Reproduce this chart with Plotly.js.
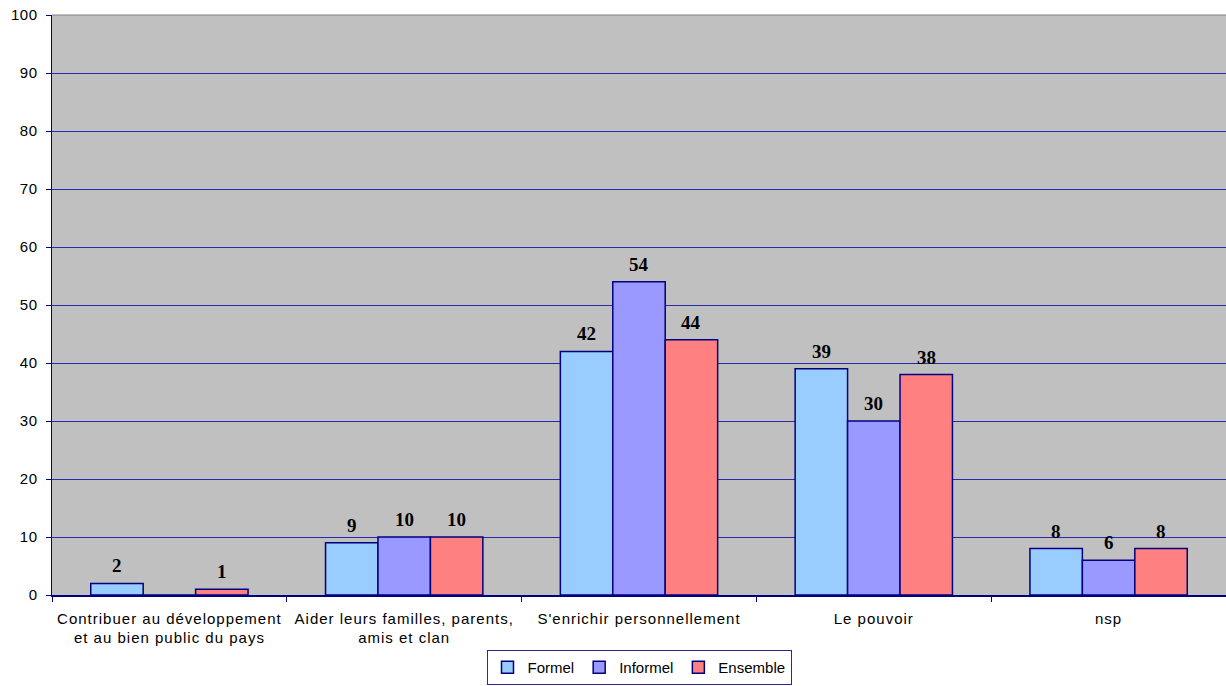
<!DOCTYPE html>
<html>
<head>
<meta charset="utf-8">
<script src="https://cdn.plot.ly/plotly-3.0.1.min.js"></script>
<style>
  html, body { margin: 0; padding: 0; background: #ffffff; }
  #chart { width: 1226px; height: 686px; }
  /* slightly open tracking on the axis lettering */
  #chart .xtick text { letter-spacing: 1px; }
  #chart .ytick text { letter-spacing: 0.5px; }
</style>
</head>
<body>
<div id="chart"></div>
<script>
// Motivations, by sector (percent)
const categories = [
  "Contribuer au développement<br>et au bien public du pays",
  "Aider leurs familles, parents,<br>amis et clan",
  "S'enrichir personnellement",
  "Le pouvoir",
  "nsp"
];
const seriesNames = ["Formel", "Informel", "Ensemble"];
const formel = [2, 9, 42, 39, 8];
const informel = [0, 10, 54, 30, 6];
const ensemble = [1, 10, 44, 38, 8];
const yTicks = [0, 10, 20, 30, 40, 50, 60, 70, 80, 90, 100];

const NAVY = "#000080";
const GRID = "#2a2aaa";
const COLORS = ["#99CCFF", "#9999FF", "#FF8080"];
const BARGAP = 0.33;
const SANS = "Liberation Sans, Arial, sans-serif";
const SERIF = "Liberation Serif, Times New Roman, serif";

const allValues = [formel, informel, ensemble];

const data = allValues.map((vals, k) => ({
  type: "bar",
  name: seriesNames[k],
  x: categories,
  y: vals,
  marker: { color: COLORS[k], line: { color: NAVY, width: 1.5 } },
  hoverinfo: "x+y+name"
}));

// value labels above each bar (zero values carry no label)
const barWidth = (1 - BARGAP) / allValues.length;
const annotations = [];
allValues.forEach((vals, k) => {
  vals.forEach((v, i) => {
    if (v > 0) {
      annotations.push({
        xref: "x", yref: "y",
        x: i + (k - (allValues.length - 1) / 2) * barWidth,
        y: v,
        text: "<b>" + v + "</b>",
        showarrow: false,
        xanchor: "center",
        yanchor: "bottom",
        yshift: 5,
        font: { family: SERIF, size: 19, color: "#000000" }
      });
    }
  });
});

const layout = {
  width: 1226,
  height: 686,
  margin: { l: 52, r: 0, t: 15, b: 91, pad: 0, autoexpand: false },
  paper_bgcolor: "#ffffff",
  plot_bgcolor: "#C0C0C0",
  barmode: "group",
  bargap: BARGAP,
  bargroupgap: 0,
  font: { family: SANS, size: 15, color: "#000000" },
  showlegend: true,
  legend: {
    orientation: "h",
    x: 0.5,
    xanchor: "center",
    y: -0.155,
    yanchor: "bottom",
    bordercolor: "#2a2a8a",
    borderwidth: 1,
    bgcolor: "#ffffff",
    font: { family: SANS, size: 15, color: "#000000" },
    itemwidth: 30,
    traceorder: "normal"
  },
  xaxis: {
    type: "category",
    tickson: "boundaries",
    ticks: "outside",
    ticklen: 5,
    tickcolor: NAVY,
    tickwidth: 1,
    ticklabelstandoff: 9,
    showline: true,
    linecolor: NAVY,
    linewidth: 1.5,
    showgrid: false,
    automargin: false,
    tickfont: { family: SANS, size: 15, color: "#000000" },
    fixedrange: true
  },
  yaxis: {
    range: [0, 100],
    tickvals: yTicks,
    ticktext: yTicks.map(String),
    ticks: "outside",
    ticklen: 5,
    tickcolor: NAVY,
    tickwidth: 1,
    ticklabelstandoff: 5,
    showline: true,
    linecolor: NAVY,
    linewidth: 1.5,
    showgrid: true,
    gridcolor: GRID,
    gridwidth: 1,
    zeroline: false,
    automargin: false,
    tickfont: { family: SANS, size: 15, color: "#000000" },
    fixedrange: true
  },
  annotations: annotations,
  shapes: [
    {
      type: "line", xref: "paper", yref: "paper",
      x0: 0, x1: 1, y0: 1, y1: 1,
      line: { color: "#808080", width: 1 }
    }
  ]
};

Plotly.newPlot("chart", data, layout, { displayModeBar: false, staticPlot: true });
</script>
</body>
</html>
